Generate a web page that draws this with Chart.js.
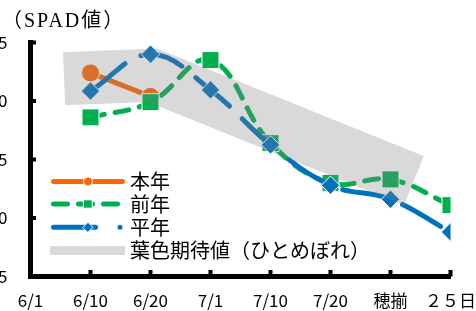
<!DOCTYPE html>
<html><head><meta charset="utf-8">
<script src="https://cdn.jsdelivr.net/npm/chart.js@4"></script>
<style>
html,body{margin:0;padding:0;background:#fff;}
#wrap{position:relative;width:476px;height:311px;overflow:hidden;background:#fff;}
#c{position:absolute;left:-30px;top:0;}
</style></head><body>
<div id="wrap"><canvas id="c" width="506" height="311"></canvas></div>
<script>
// ---- data ----
const categories = ['6/1','6/10','6/20','7/1','7/10','7/20','穂揃','２５日'];
const yTicks = [25, 30, 35, 40, 45];
const honnenY = [null, 42.4, 40.4, null, null, null, null, null];   // 本年
const zennenY = [null, 38.6, 39.9, 43.5, 36.4, 33.0, 33.3, 31.1];   // 前年
const heinenY = [null, 40.85, 44.0, 40.95, 36.25, 32.8, 31.6, 28.8]; // 平年
const bandX = [0.56, 2.03, 6.39];   // 葉色期待値 band (category position)
const bandY = [41.9, 42.2, 33.2];
const seriesNames = ['本年', '前年', '平年', '葉色期待値（ひとめぼれ）'];
const titleText = '（SPAD値）';

// ---- helpers ----
const toPts = arr => arr.map((v, i) => ({x: i, y: v})).filter(p => p.y !== null);
const bandPts = bandX.map((x, i) => ({x, y: bandY[i]}));

const OFF = 30;
const COLORS = {honnen:'#FF6600', zennen:'#00B050', heinen:'#0070C0', band:'rgba(128,128,128,0.3)', bandLegend:'#d9d9d9'};

const decor = {
  id: 'decor',
  afterDraw(chart) {
    const {ctx, chartArea: a, scales: {x, y}} = chart;
    ctx.save();
    ctx.fillStyle = '#000';
    // inward tick marks
    yTicks.forEach(v => { if (v === yTicks[0]) return; const py = y.getPixelForValue(v); ctx.fillRect(a.left, py - 2, 5.5, 4); });
    categories.forEach((c, i) => { if (i === 0) return; const px = x.getPixelForValue(i); ctx.fillRect(px - 2, a.bottom - 6.5, 4, 6.5); });
    // title
    ctx.font = "20px 'Liberation Serif', 'Noto Sans CJK JP'";
    try { ctx.letterSpacing = '2px'; } catch (e) {}
    ctx.textBaseline = 'middle'; ctx.textAlign = 'left';
    ctx.fillText(titleText, OFF + 2, 22);
    try { ctx.letterSpacing = '0px'; } catch (e) {}
    // legend
    const x0 = OFF + 51, x1 = OFF + 125, mx = OFF + 88, tx = OFF + 130;
    const rows = [181.5, 204, 227.3, 250.5];
    const line = (dash, color, yy) => {
      ctx.beginPath(); ctx.setLineDash(dash); ctx.lineCap = 'round'; ctx.lineWidth = 5; ctx.strokeStyle = color;
      ctx.moveTo(x0 + 2.5, yy); ctx.lineTo(x1 - 2.5, yy); ctx.stroke(); ctx.setLineDash([]);
    };
    // 本年
    line([], COLORS.honnen, rows[0]);
    ctx.beginPath(); ctx.arc(mx, rows[0], 4.5, 0, Math.PI * 2); ctx.fillStyle = COLORS.honnen; ctx.fill();
    ctx.lineWidth = 1; ctx.strokeStyle = '#fff'; ctx.stroke();
    // 前年
    line([14, 11], COLORS.zennen, rows[1]);
    ctx.beginPath(); ctx.rect(mx - 4.2, rows[1] - 4.2, 8.4, 8.4); ctx.fillStyle = COLORS.zennen; ctx.fill();
    ctx.lineWidth = 1; ctx.strokeStyle = '#fff'; ctx.stroke();
    // 平年
    line([42, 24.5, 0.01, 40], COLORS.heinen, rows[2]);
    ctx.beginPath(); ctx.moveTo(mx - 5, rows[2]); ctx.lineTo(mx, rows[2] - 5); ctx.lineTo(mx + 5, rows[2]); ctx.lineTo(mx, rows[2] + 5); ctx.closePath();
    ctx.fillStyle = COLORS.heinen; ctx.fill(); ctx.lineWidth = 1; ctx.strokeStyle = '#fff'; ctx.stroke();
    // band
    ctx.fillStyle = COLORS.bandLegend; ctx.fillRect(x0 - 1, rows[3] - 4.5, x1 - x0 + 1, 9);
    // texts
    ctx.fillStyle = '#000'; ctx.font = "20px 'Noto Sans CJK JP'"; ctx.textBaseline = 'middle'; ctx.textAlign = 'left';
    seriesNames.forEach((n, i) => ctx.fillText(n, tx, rows[i]));
    ctx.restore();
  }
};

Chart.defaults.font.family = "'Noto Sans CJK JP', sans-serif";
Chart.defaults.color = '#000';

new Chart(document.getElementById('c'), {
  type: 'line',
  data: {
    datasets: [
      {label: seriesNames[3], data: bandPts, borderColor: COLORS.band, borderWidth: 53, borderJoinStyle: 'miter', borderCapStyle: 'butt', pointRadius: 0, tension: 0, fill: false},
      {label: seriesNames[2], data: toPts(heinenY), borderColor: COLORS.heinen, borderWidth: 5, borderDash: [44, 18], borderCapStyle: 'round', tension: 0.4,
       pointStyle: 'rectRot', pointRadius: 9.2, pointBackgroundColor: COLORS.heinen, pointBorderColor: '#fff', pointBorderWidth: 1},
      {label: seriesNames[1], data: toPts(zennenY), borderColor: COLORS.zennen, borderWidth: 5, borderDash: [14, 11], borderCapStyle: 'round', tension: 0.4,
       pointStyle: 'rect', pointRadius: 12, pointBackgroundColor: COLORS.zennen, pointBorderColor: '#fff', pointBorderWidth: 1},
      {label: seriesNames[0], data: toPts(honnenY), borderColor: COLORS.honnen, borderWidth: 5, borderCapStyle: 'round', tension: 0.4,
       pointStyle: 'circle', pointRadius: 9, pointBackgroundColor: COLORS.honnen, pointBorderColor: '#fff', pointBorderWidth: 1}
    ]
  },
  options: {
    responsive: false, animation: false, events: [],
    layout: {padding: {left: 0, right: 25.5, top: 42.5, bottom: 0}},
    plugins: {legend: {display: false}, tooltip: {enabled: false}},
    scales: {
      x: {
        type: 'linear', min: 0, max: categories.length - 1,
        afterBuildTicks: s => { s.ticks = categories.map((c, i) => ({value: i})); },
        ticks: {callback: v => categories[v], padding: 14, autoSkip: false, maxRotation: 0, minRotation: 0, font: {size: 17}, color: '#000'},
        grid: {display: false, drawTicks: false, tickLength: 0},
        border: {display: true, color: '#000', width: 5},
        afterFit: s => { s.height = 34.5; s.paddingLeft = 0; s.paddingRight = 0; }
      },
      y: {
        min: yTicks[0], max: yTicks[yTicks.length - 1],
        afterBuildTicks: s => { s.ticks = yTicks.map(v => ({value: v})); },
        ticks: {padding: 23, font: {size: 17}, color: '#000'},
        grid: {display: false, drawTicks: false, tickLength: 0},
        border: {display: true, color: '#000', width: 5},
        afterFit: s => { s.width = 60.5; s.paddingTop = 0; s.paddingBottom = 0; }
      }
    }
  },
  plugins: [decor]
});
</script>
</body></html>
